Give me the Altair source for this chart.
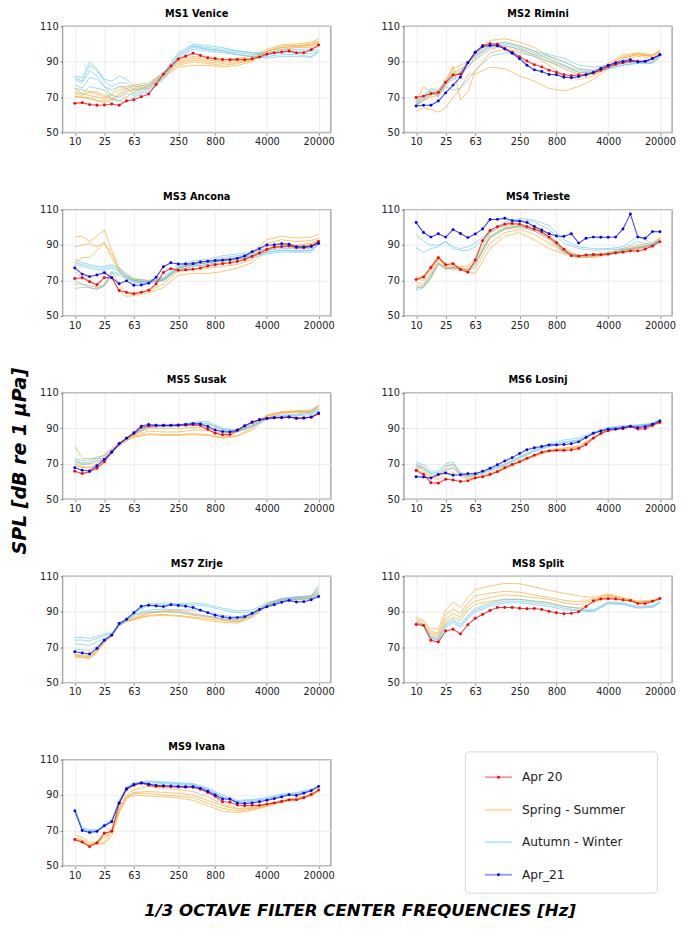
import json
import altair as alt
import pandas as pd

FREQ_LABELS = ["10", "12.5", "16", "20", "25", "31.5", "40", "50", "63", "80", "100", "125",
               "160", "200", "250", "315", "400", "500", "630", "800", "1000", "1250", "1600",
               "2000", "2500", "3150", "4000", "5000", "6300", "8000", "10000", "12500",
               "16000", "20000"]
TICK_IDX = [0, 4, 8, 14, 19, 26, 33]
THIN_IDX = [0, 1, 2, 3, 4, 5, 6, 7, 8, 10, 12, 14, 16, 18, 20, 22, 24, 26, 28, 30, 32, 33]
LEGEND_LABELS = ["Apr 20", "Spring - Summer", "Autumn - Winter", "Apr_21"]
Y_TITLE = "SPL [dB re 1 μPa]"
X_TITLE = "1/3 OCTAVE FILTER CENTER FREQUENCIES [Hz]"

# ---------------- MS1 Venice ----------------
MS1_APR20 = [66.5, 66.9, 65.8, 65.4, 65.6, 66.1, 65.4, 68.0, 68.5, 70.2, 71.8, 77.2, 83.0, 87.6,
             91.5, 93.1, 94.8, 93.5, 92.2, 91.8, 91.3, 91.1, 91.3, 91.1, 91.7, 92.6, 94.2, 95.0,
             95.5, 96.1, 95.0, 95.1, 96.8, 99.4]
MS1_APR21 = None
MS1_SPRING = [
    [75, 74, 73, 72, 70, 72, 76, 76, 77, 78, 84, 91, 93, 92, 91, 92, 93, 97, 99.5, 100, 101, 103],
    [73, 72, 71, 70, 69, 71, 74, 75, 76, 77, 83, 90, 92, 91, 90, 91, 92, 96, 99, 99, 100, 102],
    [70.5, 70, 70, 68, 68, 69, 72, 74, 75, 76, 82, 88, 90, 89, 88, 89, 91, 96, 98, 98.5, 99, 101],
    [70, 70, 69, 68, 67, 68, 71, 73, 74, 75, 81, 87, 88, 88, 87, 88, 90, 95, 97, 98, 98, 100.5],
    [72, 71, 73, 73, 71, 69, 68, 70, 73, 76, 83, 89, 91, 90, 89, 90, 91, 96, 98, 99, 99.5, 101.5],
]
MS1_AUTUMN = [
    [82, 81, 90, 86, 80, 79, 82, 80, 76, 77, 84, 95, 100, 99, 98, 96, 95, 95, 97, 97, 97, 98.5],
    [81, 79, 88, 85, 79, 76, 78, 78, 74, 76, 83, 94, 99, 98, 97, 96, 95, 94, 96, 96, 96, 97],
    [80, 78, 85, 82, 76, 74, 76, 75, 72, 75, 82, 93, 99, 97, 96, 95, 94, 94, 95, 95, 94.5, 96],
    [77, 75, 81, 80, 76, 71, 70, 72, 71, 74, 81, 92, 98, 97, 96, 94, 93, 93, 94, 94, 93, 95],
    [75, 72, 76, 75, 74, 69, 68, 67, 70, 73, 80, 91, 97, 96, 95, 94, 93, 92, 93, 93, 92.5, 96],
]

# ---------------- MS2 Rimini ----------------
MS2_APR20 = [69.8, 70.6, 72.0, 72.6, 78.4, 82.5, 83.0, 89.4, 95.3, 99.2, 100.1, 99.9, 97.5, 95.3,
             92.8, 90.4, 88.3, 87.1, 85.2, 84.0, 82.7, 82.1, 82.5, 82.8, 83.6, 85.2, 87.1, 88.5,
             89.4, 90.2, 90.2, 90.2, 91.8, 93.9]
MS2_APR21 = [65.0, 65.4, 65.4, 67.8, 72.4, 76.8, 81.2, 89.4, 95.3, 98.6, 99.2, 99.0, 97.2, 94.8,
             91.7, 88.0, 85.4, 84.5, 82.8, 82.7, 81.2, 81.0, 81.6, 82.5, 84.0, 86.2, 88.0, 89.4,
             90.2, 91.1, 89.8, 90.2, 91.8, 93.9]
MS2_SPRING = [
    [68, 70, 72, 74, 80, 86, 88, 90, 94, 102, 103, 101, 98, 93, 90, 86, 85, 89, 94, 95, 94, 96.5],
    [66, 69, 71, 72, 78, 84, 86, 89, 93, 99, 101, 99, 96, 91, 88, 84, 84, 88, 93, 94.5, 93.5, 96],
    [65, 68, 70, 71, 76, 82, 84, 87, 91, 97, 99, 97, 94, 90, 86, 83, 83, 87, 92, 94, 93, 95.5],
    [62, 64, 63, 61.5, 64, 70, 75, 83, 83, 87, 86, 82, 79, 75, 73.5, 76, 80, 86, 91, 93, 92, 94],
    [67, 76, 73, 70, 78, 87.5, 68.5, 73, 85, 95, 97, 96, 93, 88, 82, 80, 82, 87, 92, 94, 93, 95.5],
]
MS2_AUTUMN = [
    [67, 70, 75, 74, 79, 83, 85, 90, 94, 100, 101, 99, 96, 94, 92, 88, 87, 88, 90, 91, 91, 93.5],
    [66, 71, 74, 73, 78, 81, 84, 89, 93, 99, 100, 98, 95, 93, 90, 86, 85, 87, 89, 90, 90, 93],
    [65, 69, 73, 72, 77, 80, 82, 87, 92, 98, 99, 97, 94, 92, 88, 85, 84, 86, 88, 89.5, 89.5, 93],
    [66, 68, 72, 71, 76, 74, 75, 80, 85, 93, 95, 95, 93, 90, 87, 84, 84, 86, 88, 89, 89, 92.5],
]

# ---------------- MS3 Ancona ----------------
MS3_APR20 = [71.1, 71.5, 69.3, 67.6, 71.6, 71.5, 64.4, 63.3, 62.5, 63.3, 64.5, 68.0, 74.5, 76.7,
             75.8, 76.0, 76.4, 77.1, 78.2, 78.9, 79.5, 80.0, 80.7, 81.8, 83.6, 85.5, 87.5, 88.9,
             89.1, 89.5, 88.5, 88.5, 89.1, 92.0]
MS3_APR21 = [77.1, 73.6, 72.2, 73.1, 74.4, 71.6, 68.2, 69.8, 67.3, 67.5, 68.5, 71.8, 77.8, 80.0,
             79.3, 79.3, 79.5, 80.4, 80.9, 81.3, 81.5, 81.8, 82.5, 83.8, 86.2, 88.0, 90.0, 90.2,
             90.7, 90.5, 89.1, 88.9, 89.5, 90.9]
MS3_SPRING = [
    [94.5, 95, 92, 95, 98.5, 87, 77, 73, 71, 70, 71, 77.5, 80, 81, 82, 83, 86, 93, 95, 94, 94.5, 96],
    [89, 90, 91, 89, 91.5, 85, 76, 72, 70.5, 69.5, 70.5, 77, 79, 80, 81, 82, 85, 91, 93, 92, 92.5, 94],
    [80, 83, 83, 87, 91, 83, 75, 71, 70, 69, 70, 76, 78, 79, 80, 81, 84, 89, 91, 90, 91, 93],
    [68, 68, 66, 65, 67, 72, 64, 61, 61.5, 63, 66, 73, 74, 74, 75, 77, 80, 87, 89, 89, 90, 92],
    [75, 72, 70, 66, 67, 75, 68, 63, 63, 64, 68, 75, 76, 77, 78, 79, 82, 88, 90, 89.5, 90.5, 92],
]
MS3_AUTUMN = [
    [82, 80, 79, 78, 78, 79, 77, 74, 71, 70, 72, 79, 81, 82, 84, 85, 86, 88, 89, 89, 89, 92.5],
    [80, 79, 78, 77, 77, 78, 76, 73, 70, 69, 71, 78, 80, 81, 83, 84, 85, 87, 88, 88, 88, 92],
    [79, 78, 77, 76, 76, 77, 75, 72, 69, 68, 70, 77, 79, 80, 82, 83, 84, 86, 87, 87, 87, 91.5],
    [65.5, 66, 66, 65, 67, 74, 73, 71, 69, 69, 70, 76, 78, 79, 81, 82, 83, 85, 86, 86, 86, 90.5],
    [70, 68, 67, 66, 68, 75, 74, 72, 70, 69, 71, 77, 79, 80, 81, 82, 84, 86, 87, 86.5, 87, 91],
]

# ---------------- MS4 Trieste ----------------
MS4_APR20 = [70.5, 72.0, 77.3, 82.9, 78.9, 79.5, 76.2, 74.7, 81.6, 92.5, 98.2, 100.4, 101.8, 102.2,
             101.8, 100.4, 98.9, 97.5, 94.5, 91.3, 87.6, 84.0, 83.8, 84.4, 84.7, 84.5, 84.9, 85.5,
             86.0, 86.7, 86.7, 87.6, 89.5, 91.8]
MS4_APR21 = [102.7, 97.1, 94.5, 96.4, 94.5, 98.7, 96.5, 94.2, 96.2, 99.1, 104.4, 104.5, 105.1, 103.8,
             103.5, 102.7, 100.5, 98.5, 96.4, 95.1, 94.9, 96.4, 91.1, 93.8, 94.5, 94.4, 94.4, 94.5,
             99.1, 107.6, 94.5, 93.8, 97.6, 97.5]
MS4_SPRING = [
    [72, 72, 78, 84, 79, 78, 78, 78, 82, 97, 101, 102, 100, 96, 88, 84, 85, 86, 88, 90, 91, 94.5],
    [71, 70, 76, 83, 78, 77, 77, 77, 80, 95, 100, 101, 99, 94, 87, 84, 84, 85, 87, 89, 90, 94],
    [69, 68, 74, 82, 77, 76, 76, 76, 79, 94, 99, 100, 98, 93, 86, 83, 83.5, 85, 87, 88.5, 90, 93.5],
    [67, 67, 72, 80, 76, 78, 77, 75, 74, 88, 95, 97, 93, 88, 85, 83, 83, 84.5, 86, 88, 89, 93],
    [66, 66, 71, 79, 77, 77, 77, 76, 77, 91, 97, 99, 96, 91, 86, 83.5, 84, 85, 86.5, 88, 89.5, 93],
]
MS4_AUTUMN = [
    [96, 92, 90, 90, 92, 89, 88, 89, 91, 98, 103, 105, 104, 101, 93, 89, 88, 88, 89, 95, 91, 93],
    [88.5, 86, 88, 89, 92, 88, 87, 87, 89, 97, 102, 104, 103, 99, 91, 88, 87, 87.5, 88, 92, 90, 92.5],
    [64.5, 66, 72, 79.5, 77, 77.5, 77, 76, 80, 95, 99.5, 101, 99, 95, 86, 84, 84, 85.5, 87.5, 89, 90, 93],
    [65.5, 67, 73, 80, 77, 77, 76, 75, 79, 94, 99, 100.5, 98, 94, 86, 83.5, 84, 85, 87, 88.5, 89.5, 92.5],
]

# ---------------- MS5 Susak ----------------
MS5_APR20 = [65.8, 64.5, 65.6, 67.5, 71.1, 76.5, 81.3, 84.5, 87.1, 90.5, 91.3, 91.5, 91.5, 91.6,
             91.6, 91.8, 92.0, 91.6, 89.5, 87.3, 86.4, 86.5, 88.9, 91.3, 93.3, 94.9, 95.8, 96.0,
             96.2, 96.4, 95.6, 96.0, 96.2, 98.2]
MS5_APR21 = [67.8, 66.4, 66.0, 68.9, 72.5, 76.7, 81.3, 84.5, 87.5, 91.3, 92.2, 91.8, 91.8, 91.8,
             92.0, 92.2, 92.7, 92.5, 91.1, 89.1, 88.2, 88.0, 89.1, 91.5, 93.6, 94.9, 95.6, 96.0,
             96.0, 96.4, 95.8, 95.8, 96.5, 98.7]
MS5_SPRING = [
    [80, 73, 73, 73, 75, 79, 82, 84, 85.5, 87, 86.5, 86.5, 87, 86.5, 85, 86, 90, 97, 99, 99.5, 99.5, 102],
    [72, 70, 70, 71, 74, 78, 81, 83, 85, 86.5, 86, 86, 86.5, 86, 84.5, 85.5, 89, 96, 98.5, 99, 99, 101.5],
    [70, 68.5, 68, 70, 73, 77, 80, 83, 86, 88.5, 88, 88, 89, 89, 86, 88, 91, 97, 99, 99.5, 100, 102.5],
    [69, 68, 67.5, 69, 72.5, 77, 81, 84, 86.5, 90, 90, 90, 90.5, 90, 87, 88.5, 92, 97.5, 99.5, 100, 100.5, 103],
]
MS5_AUTUMN = [
    [73, 72, 72, 74, 74.5, 78, 81, 84, 87, 91.5, 92, 92, 93.5, 94, 90, 89, 92, 96, 97.5, 98, 99.5, 103],
    [72, 70.5, 71, 73, 73, 77, 81, 84, 87, 91, 91.5, 91.5, 93, 93, 89.5, 88.5, 91.5, 95.5, 97, 97.5, 98.5, 101],
    [71, 69.5, 70, 72, 72, 76, 80.5, 84, 87, 90.5, 91, 91, 92.5, 92.5, 89, 88, 91, 95, 96.5, 97, 98, 100],
]

# ---------------- MS6 Losinj ----------------
MS6_APR20 = [66.2, 64.0, 59.3, 59.1, 61.3, 60.9, 60.0, 60.4, 62.0, 62.7, 64.0, 65.5, 67.8, 69.6,
             71.1, 73.1, 74.9, 76.5, 77.3, 77.6, 77.6, 77.8, 78.7, 80.9, 84.5, 87.1, 88.7, 89.5,
             89.8, 90.9, 89.6, 89.8, 91.6, 93.3]
MS6_APR21 = [62.7, 62.5, 62.0, 64.0, 64.9, 63.6, 63.8, 64.4, 64.4, 65.8, 67.5, 69.5, 71.6, 73.5,
             75.8, 78.0, 79.1, 79.8, 80.7, 80.7, 80.9, 81.3, 82.4, 84.9, 87.3, 88.5, 89.5, 89.6,
             90.4, 91.3, 90.4, 90.9, 92.4, 94.2]
MS6_SPRING = [
    [69, 68, 64, 63, 68, 70, 65, 63, 63, 65, 68, 72, 75, 78, 79, 80, 85, 90, 91, 91.5, 92.5, 94],
    [68, 66.5, 63, 62, 66, 68, 64, 62, 62, 64, 67.5, 71.5, 74.5, 77.5, 78.5, 79.5, 85, 89.5, 90.5, 91, 92, 93.5],
    [67, 65, 62, 61, 64, 65, 63, 61.5, 62, 64, 67, 71, 74, 77, 78, 79, 84.5, 89.5, 90.5, 91, 92, 93.5],
]
MS6_AUTUMN = [
    [71, 69.5, 66, 66, 70, 71, 65, 64.5, 64.5, 67, 70, 74, 78, 81, 83.5, 84.5, 88, 90.5, 91.5, 92, 93, 95],
    [70, 68, 65, 65, 69, 69.5, 64, 63.5, 64, 66.5, 69.5, 73.5, 77.5, 80, 82.5, 83.5, 87.5, 90, 91, 91.5, 92.5, 94.5],
    [69, 67, 64.5, 64, 67, 67.5, 63.5, 63, 63.5, 66, 69, 73, 77, 79.5, 82, 83, 87, 90, 91, 91.5, 92.5, 94.5],
]

# ---------------- MS7 Zirje ----------------
MS7_APR20 = None
MS7_APR21 = [67.4, 66.7, 66.1, 69.3, 73.9, 76.8, 83.4, 85.8, 89.4, 93.1, 93.7, 93.3, 92.9, 93.9,
             93.5, 93.1, 92.4, 90.9, 89.4, 88.0, 87.2, 86.5, 86.7, 87.2, 89.1, 91.3, 92.8, 94.0,
             95.3, 96.4, 95.5, 95.7, 96.8, 98.6]
MS7_SPRING = [
    [65.5, 65, 64.5, 68, 73.5, 77, 83, 85, 86, 88, 88.5, 88, 87, 86, 85, 84.5, 88, 94, 97, 98, 99, 104],
    [65, 64.5, 64, 67.5, 73, 76.5, 82.5, 84.5, 85.5, 87.5, 88, 87.5, 86.5, 85, 84, 83.5, 87, 93, 96, 97, 97.5, 101],
    [66, 65.5, 65, 68.5, 74, 77, 83, 85.5, 87, 89.5, 90, 90, 88, 87, 86, 85, 88.5, 94.5, 97.5, 98, 98.5, 102],
    [64.5, 64, 63.5, 67, 72.5, 76, 82, 84.5, 86, 89, 90.5, 91, 89, 87.5, 85.5, 84, 87, 93.5, 96.5, 97, 97, 100],
]
MS7_AUTUMN = [
    [75.5, 75.5, 75, 76, 77.5, 78, 83, 86, 90, 94.5, 95, 94.5, 95, 94, 92, 90.5, 91, 95, 97.5, 98.5, 99, 105],
    [74, 74, 73.5, 75, 76.5, 77.5, 82.5, 85.5, 89.5, 93.5, 94, 94, 94, 93, 91, 89.5, 90, 94, 97, 98, 98.5, 103],
    [72, 71.5, 71, 73, 75, 77, 82, 85, 88.5, 91, 91.5, 91, 91, 90, 88, 87, 89, 93.5, 96.5, 97.5, 98, 101],
    [69, 68.5, 68, 70.5, 74, 76.5, 82.5, 85, 88, 90, 90, 89.5, 88.5, 87.5, 86, 85.5, 88, 93, 96, 97, 97.5, 100],
]

# ---------------- MS8 Split ----------------
MS8_APR20 = [82.8, 82.3, 73.9, 72.9, 79.2, 80.1, 77.5, 82.7, 86.3, 88.5, 90.7, 92.4, 92.4, 92.4,
             92.0, 91.7, 91.8, 91.3, 90.2, 89.4, 88.9, 89.1, 90.0, 92.9, 96.1, 97.2, 97.4, 97.2,
             96.6, 96.3, 94.6, 94.6, 95.9, 97.5]
MS8_APR21 = None
MS8_SPRING = [
    [87, 85, 80.5, 80, 91, 95.5, 92.5, 98, 102.5, 104.5, 106, 105.8, 104, 102, 100.5, 99, 98, 100, 98, 96, 96.5, 97.5],
    [86, 84, 79, 78, 88, 91.5, 89, 95, 99, 100.5, 101.5, 101, 99.5, 98, 96.5, 95.5, 97, 99.5, 97.5, 95.5, 96, 97.5],
    [85, 83, 78, 77, 86, 89, 87, 93, 96, 98, 99.5, 99, 98, 97, 95, 94, 96.5, 99, 97, 95.5, 96, 97],
    [84, 82.5, 77, 76, 84, 87, 85, 91, 94, 96, 97, 97, 96, 95, 93, 92, 95, 98.5, 96.5, 95, 95.5, 97],
]
MS8_AUTUMN = [
    [84, 83, 76, 75, 83, 86, 83, 88, 92, 95, 97, 97, 96, 95, 93, 92, 91, 95.5, 95, 93, 93.5, 96],
    [83.5, 82.5, 75.5, 74.5, 82, 85, 82, 87, 91, 94, 96, 96, 95, 94, 92, 91, 90.5, 95, 94.5, 92.5, 93, 95.5],
    [83, 82, 75, 74, 81, 84, 81, 86, 90, 93, 95, 95, 94, 93, 91, 90.5, 90, 94.5, 94, 92, 92.5, 95],
]

# ---------------- MS9 Ivana ----------------
MS9_APR20 = [64.9, 63.5, 60.9, 63.1, 68.5, 69.6, 85.3, 93.1, 95.5, 96.7, 95.6, 94.9, 94.9, 94.7,
             94.5, 94.4, 94.4, 93.3, 91.5, 89.3, 86.2, 86.0, 84.4, 84.0, 84.2, 84.2, 84.9, 85.6,
             86.4, 87.3, 87.3, 88.5, 90.4, 92.9]
MS9_APR21 = [81.1, 70.0, 68.9, 69.5, 72.7, 74.9, 85.6, 93.6, 96.0, 96.9, 96.2, 95.5, 95.3, 95.1,
             94.9, 94.7, 94.7, 93.8, 92.2, 90.0, 87.8, 87.8, 85.5, 85.3, 85.6, 86.2, 87.1, 88.0,
             88.9, 90.2, 89.8, 91.1, 92.5, 94.9]
MS9_SPRING = [
    [67.5, 66, 63.5, 63, 67, 70, 82, 89, 91.5, 92, 91.5, 91, 90, 87, 84, 82, 82.5, 84.5, 87, 88.5, 90.5, 93],
    [66, 64.5, 62.5, 62, 63.5, 69, 81, 88.5, 91, 91, 90, 89.5, 88.5, 85.5, 82.5, 81, 82, 84, 86.5, 88, 90, 92.5],
    [65, 63.5, 62, 62.5, 62.5, 67, 80, 88, 90, 89.5, 89, 88.5, 87, 84, 81, 80, 81.5, 83.5, 86, 87.5, 89.5, 92],
    [64.5, 63, 61.5, 63, 66, 69, 83, 90, 93, 95, 94, 93, 92, 89, 85, 82.5, 83, 84.5, 86.5, 88, 90, 92.5],
]
MS9_AUTUMN = [
    [82.5, 71.5, 70.5, 70.5, 73.5, 76, 87, 94.5, 97, 98, 97.5, 97, 96.5, 94, 90, 87, 87.5, 88.5, 90.5, 91.5, 93.5, 95.5],
    [82, 71, 70, 70, 73, 75.5, 86.5, 94, 96.5, 97.5, 97, 96.5, 96, 93.5, 89, 86.5, 87, 88, 90, 91, 93, 95],
    [81.5, 70.5, 69.5, 69.5, 72.5, 75, 86, 94, 96, 97, 96.5, 96, 95.5, 93, 88.5, 86, 86.5, 87.5, 89.5, 90.5, 92.5, 94.5],
]

SITES = [
    ("MS1 Venice", MS1_APR20, MS1_APR21, MS1_SPRING, MS1_AUTUMN),
    ("MS2 Rimini", MS2_APR20, MS2_APR21, MS2_SPRING, MS2_AUTUMN),
    ("MS3 Ancona", MS3_APR20, MS3_APR21, MS3_SPRING, MS3_AUTUMN),
    ("MS4 Trieste", MS4_APR20, MS4_APR21, MS4_SPRING, MS4_AUTUMN),
    ("MS5 Susak", MS5_APR20, MS5_APR21, MS5_SPRING, MS5_AUTUMN),
    ("MS6 Losinj", MS6_APR20, MS6_APR21, MS6_SPRING, MS6_AUTUMN),
    ("MS7 Zirje", MS7_APR20, MS7_APR21, MS7_SPRING, MS7_AUTUMN),
    ("MS8 Split", MS8_APR20, MS8_APR21, MS8_SPRING, MS8_AUTUMN),
    ("MS9 Ivana", MS9_APR20, MS9_APR21, MS9_SPRING, MS9_AUTUMN),
]

ORANGE = "#f5a31a"
CYAN = "#4fc2ec"
RED = "#ff0000"
BLUE = "#0000ff"
LEGEND_COLORS = [RED, ORANGE, CYAN, BLUE]
FONT = "DejaVu Sans"
PW, PH = 275, 109
NOSTROKE = alt.ViewBackground(stroke="transparent")

label_expr = json.dumps(FREQ_LABELS) + "[datum.value]"


def panel(name, apr20, apr21, spring, autumn):
    rows = []
    for k, line in enumerate(spring):
        for i, v in zip(THIN_IDX, line):
            rows.append({"idx": i, "spl": v, "series": "Spring - Summer", "line": f"S{k}"})
    for k, line in enumerate(autumn):
        for i, v in zip(THIN_IDX, line):
            rows.append({"idx": i, "spl": v, "series": "Autumn - Winter", "line": f"A{k}"})
    if apr20:
        for i, v in enumerate(apr20):
            rows.append({"idx": i, "spl": v, "series": "Apr 20", "line": "R"})
    if apr21:
        for i, v in enumerate(apr21):
            rows.append({"idx": i, "spl": v, "series": "Apr_21", "line": "B"})
    df = pd.DataFrame(rows)

    x = alt.X("idx:Q",
              scale=alt.Scale(domain=[-1.65, 34.65], nice=False, zero=False),
              axis=alt.Axis(values=TICK_IDX, labelExpr=label_expr, title=None,
                            labelFlush=False, grid=True))
    y = alt.Y("spl:Q",
              scale=alt.Scale(domain=[50, 110], nice=False, zero=False),
              axis=alt.Axis(values=[50, 70, 90, 110], title=None, grid=True))
    base = alt.Chart(df).encode(x=x, y=y, detail="line:N")

    layers = [
        base.transform_filter(alt.datum.series == "Spring - Summer")
            .mark_line(color=ORANGE, strokeWidth=0.9, opacity=0.7),
        base.transform_filter(alt.datum.series == "Autumn - Winter")
            .mark_line(color=CYAN, strokeWidth=0.9, opacity=0.65),
    ]
    for ser, col, ok in (("Apr 20", RED, apr20), ("Apr_21", BLUE, apr21)):
        if ok:
            sub = base.transform_filter(alt.datum.series == ser)
            layers.append(sub.mark_line(color=col, strokeWidth=1.1, opacity=0.75))
            layers.append(sub.mark_point(color=col, filled=True, size=9, opacity=1))
    return alt.layer(*layers).properties(
        width=PW, height=PH,
        title=alt.TitleParams(name, fontSize=10, fontWeight="bold", font=FONT, offset=3,
                              color="black", frame="group"))


def legend_chart():
    ldf = pd.DataFrame({"label": LEGEND_LABELS, "row": [0, 1, 2, 3],
                        "color": LEGEND_COLORS, "dot": [1, 0, 0, 1]})
    ly = alt.Y("row:Q", scale=alt.Scale(domain=[0, 3], range=[18, 118]), axis=None)
    box = alt.Chart(pd.DataFrame({"k": [0]})).mark_rect(
        fill="white", stroke="#d6d6d6", strokeWidth=1, cornerRadius=4
    ).encode(x=alt.value(87), x2=alt.value(284), y=alt.value(-8), y2=alt.value(137))
    rules = alt.Chart(ldf).mark_rule(strokeWidth=2, opacity=0.4).encode(
        x=alt.value(107), x2=alt.value(135), y=ly, color=alt.Color("color:N", scale=None))
    dots = alt.Chart(ldf).transform_filter(alt.datum.dot == 1).mark_point(
        filled=True, size=9, opacity=1).encode(
        x=alt.value(121), y=ly, color=alt.Color("color:N", scale=None))
    texts = alt.Chart(ldf).mark_text(align="left", baseline="middle", font=FONT,
                                     fontSize=12.5, color="#222").encode(
        x=alt.value(145), y=ly, text="label:N")
    return alt.layer(box, rules, dots, texts).properties(width=290, height=140, view=NOSTROKE)


panels = [panel(*s) for s in SITES]
rows = []
for r in range(4):
    rows.append(alt.hconcat(panels[2 * r], panels[2 * r + 1], spacing=45))
rows.append(alt.hconcat(panels[8], legend_chart(), spacing=45))
grid = alt.vconcat(*rows, spacing=44)

ytitle = alt.Chart(pd.DataFrame({"t": [Y_TITLE]})).mark_text(
    angle=270, align="center", baseline="middle", font=FONT, fontSize=19.5,
    fontWeight="bold", fontStyle="italic", color="black"
).encode(x=alt.value(11), y=alt.value(446), text="t:N").properties(
    width=22, height=860, view=NOSTROKE)

xtitle = alt.Chart(pd.DataFrame({"t": [X_TITLE]})).mark_text(
    align="center", baseline="middle", font=FONT, fontSize=17,
    fontWeight="bold", fontStyle="italic", color="black"
).encode(x=alt.value(360), y=alt.value(10), text="t:N").properties(
    width=640, height=20, view=NOSTROKE)

top = alt.hconcat(ytitle, grid, spacing=7)
chart = alt.vconcat(top, xtitle, spacing=3).properties(
    padding={"left": 0, "top": -12, "right": 0, "bottom": 0},
).configure(font=FONT).configure_axis(
    labelFont=FONT, labelFontSize=10, labelColor="#222", tickColor="#666", tickSize=2.5,
    tickWidth=0.8, domain=False, gridColor="#e6e6e6", gridWidth=0.8, labelPadding=2,
).configure_view(stroke="#a8a8a8", strokeWidth=1.5)

chart.save("out.html", embed_options={"renderer": "svg", "actions": False})
